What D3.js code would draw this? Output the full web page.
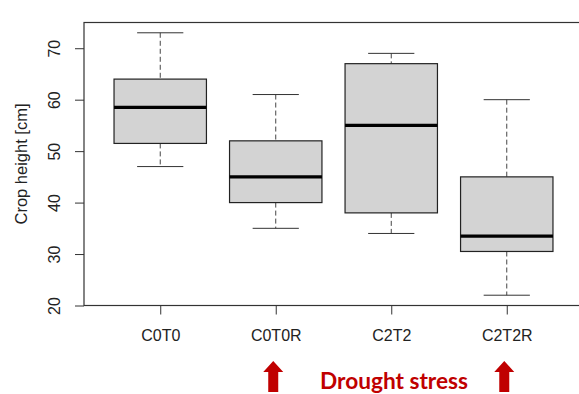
<!DOCTYPE html>
<html>
<head>
<meta charset="utf-8">
<script src="https://cdn.jsdelivr.net/npm/d3@7"></script>
<style>
  body { margin: 0; background: #fff; }
  svg { display: block; }
  .tick text { font-family: "Liberation Sans", Arial, sans-serif; font-size: 16px; fill: #222; }
</style>
</head>
<body>
<div class="chart"></div>
<script>
var w = 579;
var h = 394;

// five number summaries
var groups   = ["C0T0", "C0T0R", "C2T2", "C2T2R"];
var lowWhisk = [47, 35, 34, 22];
var q1       = [51.5, 40, 38, 30.5];
var median   = [58.5, 45, 55, 33.5];
var q3       = [64, 52, 67, 45];
var highWhisk= [73, 61, 69, 60];
var yTicks   = [20, 30, 40, 50, 60, 70];
var stressed = ["C0T0R", "C2T2R"];

var boxData = groups.map(function(g, i) {
  return {name: g, lo: lowWhisk[i], q1: q1[i], med: median[i], q3: q3[i], hi: highWhisk[i]};
});

var plotLeft = 84;
var plotRight = 583; // frame runs past the right edge
var plotTop = 22.5;
var plotBottom = 305.5;

var xScale = d3.scalePoint()
               .domain(groups)
               .range([plotLeft, plotRight])
               .padding(0.66);

var yScale = d3.scaleLinear()
               .domain([20, 75])
               .range([plotBottom, plotTop]);

var step = xScale.step();
var boxW = step * 0.8;
var capW = boxW * 0.5;

var svg = d3.select(".chart").append("svg")
            .attr("width", w)
            .attr("height", h);

// frame
svg.append("rect")
   .attr("x", plotLeft)
   .attr("y", plotTop)
   .attr("width", plotRight - plotLeft)
   .attr("height", plotBottom - plotTop)
   .attr("fill", "none")
   .attr("stroke", "#333")
   .attr("stroke-width", 1.2);

// axes
var yAxis = d3.axisLeft(yScale).tickValues(yTicks).tickSize(9).tickFormat(d3.format("d"));
var gy = svg.append("g")
   .attr("transform", "translate(" + plotLeft + ",0)")
   .call(yAxis);
gy.select(".domain").remove();
gy.selectAll(".tick line").attr("stroke", "#333");
gy.selectAll(".tick text")
  .attr("x", null).attr("dy", null)
  .attr("text-anchor", "middle")
  .attr("transform", "translate(-24,0) rotate(-90)");

var xAxis = d3.axisBottom(xScale).tickSize(9).tickPadding(0);
var gx = svg.append("g")
   .attr("transform", "translate(0," + plotBottom + ")")
   .call(xAxis);
gx.select(".domain").remove();
gx.selectAll(".tick line").attr("stroke", "#333");
gx.selectAll(".tick text").attr("y", 35.5).attr("dy", null);

svg.append("text")
   .attr("transform", "translate(27,164) rotate(-90)")
   .attr("text-anchor", "middle")
   .style("font-family", "'Liberation Sans', Arial, sans-serif")
   .style("font-size", "16.5px")
   .style("fill", "#222")
   .text("Crop height [cm]");

// boxes
var box = svg.selectAll("g.box")
   .data(boxData)
   .enter()
   .append("g")
   .attr("class", "box")
   .attr("transform", function(d) { return "translate(" + xScale(d.name) + ",0)"; });

box.append("line")
   .attr("x1", 0).attr("x2", 0)
   .attr("y1", function(d) { return yScale(d.hi); })
   .attr("y2", function(d) { return yScale(d.q3); })
   .attr("stroke", "#444").attr("stroke-dasharray", "5,3");

box.append("line")
   .attr("x1", 0).attr("x2", 0)
   .attr("y1", function(d) { return yScale(d.q1); })
   .attr("y2", function(d) { return yScale(d.lo); })
   .attr("stroke", "#444").attr("stroke-dasharray", "5,3");

box.selectAll("line.cap")
   .data(function(d) { return [d.hi, d.lo]; })
   .enter()
   .append("line")
   .attr("class", "cap")
   .attr("x1", -capW / 2).attr("x2", capW / 2)
   .attr("y1", function(v) { return yScale(v); })
   .attr("y2", function(v) { return yScale(v); })
   .attr("stroke", "#333");

box.append("rect")
   .attr("x", -boxW / 2)
   .attr("width", boxW)
   .attr("y", function(d) { return yScale(d.q3); })
   .attr("height", function(d) { return yScale(d.q1) - yScale(d.q3); })
   .attr("fill", "#d3d3d3")
   .attr("stroke", "#222")
   .attr("stroke-width", 1.2);

box.append("line")
   .attr("x1", -boxW / 2).attr("x2", boxW / 2)
   .attr("y1", function(d) { return yScale(d.med); })
   .attr("y2", function(d) { return yScale(d.med); })
   .attr("stroke", "#000")
   .attr("stroke-width", 3.2);

// drought stress note
var arrowPath = "M0,361 L10,372 L5,372 L5,392 L-5,392 L-5,372 L-10,372 Z";
svg.selectAll("path.arrow")
   .data(stressed)
   .enter()
   .append("path")
   .attr("class", "arrow")
   .attr("d", arrowPath)
   .attr("transform", function(d) { return "translate(" + (xScale(d) - 2.5) + ",0)"; })
   .attr("fill", "#c00000");

svg.append("text")
   .attr("x", 394)
   .attr("y", 389)
   .attr("text-anchor", "middle")
   .attr("textLength", 148)
   .attr("lengthAdjust", "spacingAndGlyphs")
   .style("font-family", "Lato, 'Open Sans', sans-serif")
   .style("font-weight", "bold")
   .style("font-size", "23px")
   .style("fill", "#c00000")
   .text("Drought stress");
</script>
</body>
</html>
